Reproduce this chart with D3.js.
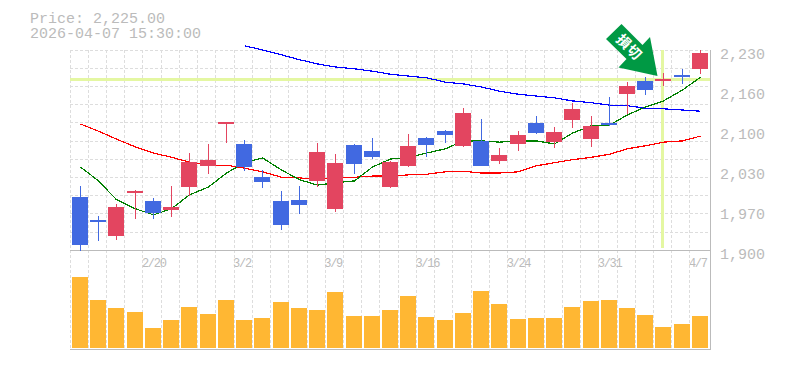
<!DOCTYPE html>
<html><head><meta charset="utf-8">
<script src="https://cdn.jsdelivr.net/npm/d3@7"></script>
<style>
html,body{margin:0;padding:0;background:#fff;overflow:hidden}
svg{display:block}
text{font-family:"Liberation Mono",monospace;fill:#bbb}
</style></head><body>
<svg id="c" width="785" height="370"></svg>
<script>
const dates=["2/16","2/17","2/18","2/19","2/20","2/24","2/25","2/26","2/27","3/2","3/3","3/4","3/5","3/6","3/9","3/10","3/11","3/12","3/13","3/16","3/17","3/18","3/19","3/23","3/24","3/25","3/26","3/27","3/30","3/31","4/1","4/2","4/3","4/6","4/7"];
const opens=[1987,1950,1923,1994,1981,1966,2004,2039,2108,2075,2020,1981,1983,2014,1968,2073,2063,2004,2039,2085,2096,2072,2080,2047,2075,2110,2078,2115,2083,2110,2157,2179,2179,2189,2199];
const highs=[2006,1956,1976,1999,1986,2006,2060,2075,2111,2082,2032,1997,2006,2077,2058,2075,2085,2047,2091,2086,2098,2134,2116,2068,2096,2121,2103,2143,2121,2152,2177,2185,2192,2199,2230];
const lows=[1899,1915,1917,1951,1951,1954,1989,2025,2077,2030,2002,1933,1959,2004,1963,2025,2050,2002,2037,2053,2077,2070,2039,2042,2063,2091,2068,2101,2070,2105,2124,2156,2171,2174,2190];
const closes=[1908,1946,1971,1997,1961,1971,2045,2049,2111,2037,2012,1941,1974,2062,2044,2042,2053,2045,2072,2073,2090,2126,2039,2057,2090,2093,2095,2133,2105,2108,2171,2164,2182,2187,2225];
const volumes=[710,480,400,360,200,280,410,340,480,280,300,460,400,380,560,320,320,380,520,310,280,350,570,440,290,300,300,410,470,480,400,330,210,240,320];
const maShort=[2037,2014,1983,1968,1958,1968,1991,2004,2027,2044,2052,2032,2016,2007,2011,2014,2037,2050,2053,2060,2067,2080,2080,2078,2080,2080,2075,2093,2105,2106,2123,2136,2146,2164,2185];
const maMid=[2108,2096,2083,2070,2060,2053,2045,2040,2040,2035,2029,2020,2019,2016,2020,2020,2022,2022,2024,2025,2029,2030,2027,2027,2029,2039,2044,2049,2053,2058,2067,2072,2078,2080,2088];
const maLong=[null,null,null,null,null,null,null,null,null,2237,2230,2222,2214,2207,2202,2199,2195,2190,2187,2184,2177,2174,2169,2162,2157,2154,2151,2146,2143,2139,2138,2134,2133,2131,2129];
const priceTicks=[1900,1966,2032,2098,2164,2230];
const priceTickLabels=["1,900","1,970","2,030","2,100","2,160","2,230"];
const dateTicks=["2/20","3/2","3/9","3/16","3/24","3/31","4/7"];
const gridPrices=d3.range(1900,2231,30);
const headerLines=["Price: 2,225.00","2026-04-07 15:30:00"];
const signalLabel="損切";
const signalDate="4/3";

const svg=d3.select("#c");
const x=d3.scaleBand().domain(dates).range([70,708.2]);
const y=d3.scaleLinear().domain([1900,2230]).range([250,50]);
const v=d3.scaleLinear().domain([0,800]).range([348,268]);
const bx=d=>Math.round(x(d)+2);
const cand=dates.map((d,i)=>({d,o:opens[i],h:highs[i],l:lows[i],c:closes[i],vol:volumes[i]}));
const RED="#e34560",BLUE="#4169e1",GRID="#dddddd",AX="#bbbbbb",HL="#e4f7a2";

// grid
const g=svg.append("g").attr("stroke",GRID).attr("stroke-dasharray","3 2").attr("shape-rendering","crispEdges");
g.selectAll(".v").data(dates).join("line").attr("x1",d=>Math.floor(x(d))+.5).attr("x2",d=>Math.floor(x(d))+.5).attr("y1",50).attr("y2",350);
g.selectAll(".h").data(gridPrices.slice(0,-1).concat(2230)).join("line").attr("x1",70).attr("x2",710)
 .attr("y1",d=>Math.floor(y(d)+.2)+.5).attr("y2",d=>Math.floor(y(d)+.2)+.5);

// frame
const f=svg.append("g").attr("stroke",AX).attr("shape-rendering","crispEdges");
f.append("line").attr("x1",70).attr("x2",711).attr("y1",250.5).attr("y2",250.5);
f.append("line").attr("x1",70).attr("x2",711).attr("y1",349.5).attr("y2",349.5);
f.append("line").attr("x1",710.5).attr("x2",710.5).attr("y1",50).attr("y2",350);

// highlight
const hi=cand[dates.indexOf(signalDate)];
svg.append("rect").attr("x",70).attr("width",640).attr("y",Math.round(y(hi.c))-1).attr("height",3).attr("fill",HL);
svg.append("rect").attr("x",bx(hi.d)+6).attr("width",3).attr("y",50).attr("height",198).attr("fill",HL);

// moving averages
const line=a=>d3.line().defined(d=>d!==null).x((d,i)=>bx(dates[i])+8.5).y(d=>y(d)).curve(d3.curveLinear)(a);
[[maLong,"#0000ff"],[maMid,"#ff0000"],[maShort,"#008000"]].forEach(([a,col])=>{
 svg.append("path").attr("d",line(a)).attr("fill","none").attr("stroke",col).attr("stroke-width",1.2).attr("shape-rendering","crispEdges");
});

// candles
const cg=svg.append("g").attr("shape-rendering","crispEdges");
const col=d=>d.c>=d.o?RED:BLUE;
cg.selectAll(".w").data(cand).join("rect").attr("x",d=>bx(d.d)+8).attr("width",1)
 .attr("y",d=>Math.round(y(d.h))).attr("height",d=>Math.round(y(d.l))-Math.round(y(d.h))).attr("fill",col);
cg.selectAll(".b").data(cand).join("rect").attr("x",d=>bx(d.d)).attr("width",16)
 .attr("y",d=>Math.round(y(Math.max(d.o,d.c))))
 .attr("height",d=>Math.max(2,Math.round(y(Math.min(d.o,d.c)))-Math.round(y(Math.max(d.o,d.c))))).attr("fill",col);

// volume
svg.append("g").attr("shape-rendering","crispEdges").selectAll("rect").data(cand).join("rect")
 .attr("x",d=>bx(d.d)).attr("width",16).attr("y",d=>Math.round(v(d.vol))).attr("height",d=>348-Math.round(v(d.vol))).attr("fill","#ffb733");

// arrow, anchored on the signal candle
const sx=bx(signalDate)+8, sy=y(closes[dates.indexOf(signalDate)]);
const tipX=sx-5.5, tipY=sy-3;
const arrow=svg.append("g").attr("transform",`translate(${tipX},${tipY})`);
arrow.append("polygon").attr("points",[[-36,-52],[-51.5,-37],[-31,-17],[-39,-8.5],[0,0],[-7.5,-39],[-15,-31]].join(" ")).attr("fill","#009944");
const sig=arrow.append("g").attr("transform","translate(-28.5,-28.5) rotate(45)");
sig.append("text").attr("text-anchor","middle").attr("y",4.5).attr("style","font-family:'Noto Sans CJK JP';font-size:14px;font-weight:700;fill:#fff;letter-spacing:1px").text(signalLabel);

// axes
const yAxis=d3.axisRight(y).tickValues(priceTicks).tickSize(0).tickPadding(0).tickFormat((d,i)=>priceTickLabels[i]);
const ya=svg.append("g").attr("transform","translate(720,0)").call(yAxis);
ya.select(".domain").remove();
ya.selectAll("text").attr("dy",0).attr("y",8).attr("x",0).style("font-size","15px").style("font-family","'Liberation Mono',monospace").attr("fill","#bbb");

const xAxis=d3.axisBottom(x).tickValues(dateTicks).tickSize(0).tickPadding(0);
const xa=svg.append("g").attr("transform","translate(0,250)").call(xAxis);
xa.select(".domain").remove();
xa.selectAll("text").attr("dy",0).attr("y",16.5).attr("x",-x.bandwidth()/2-1).attr("text-anchor","start")
 .style("font-size","12px").style("font-family","'Liberation Mono',monospace").style("letter-spacing","-1.3px").attr("fill","#bbb");

// header
svg.selectAll(".hd").data(headerLines).join("text").attr("x",30).attr("y",(d,i)=>23+i*14.5).style("font-size","15px").text(d=>d);
</script>
</body></html>
